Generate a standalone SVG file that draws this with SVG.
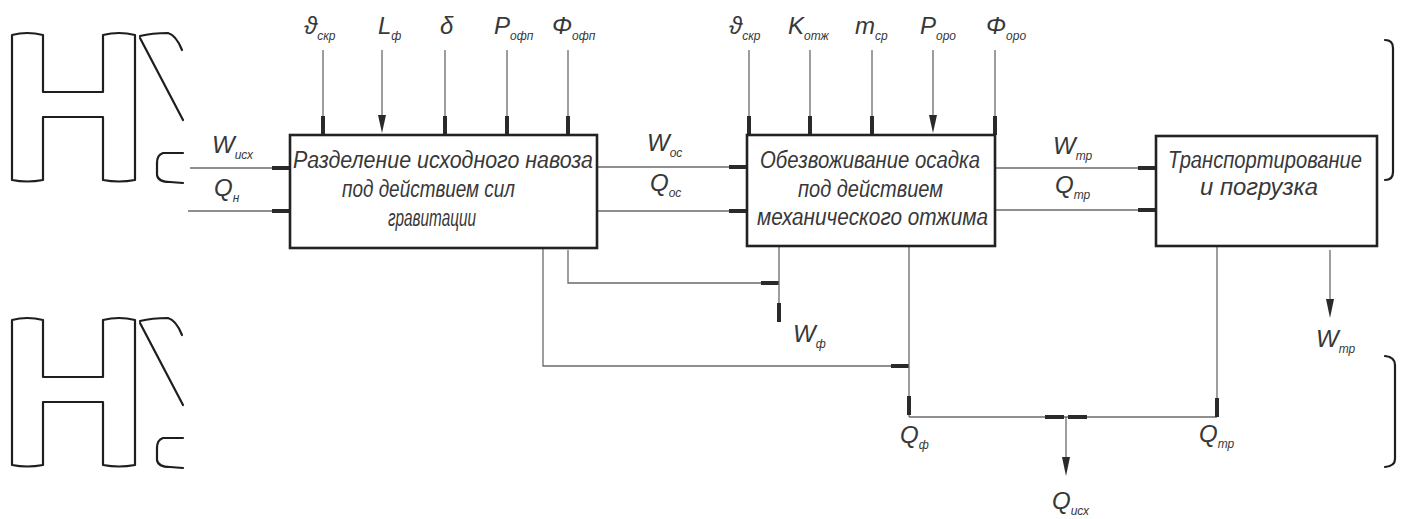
<svg xmlns="http://www.w3.org/2000/svg" width="1407" height="519" viewBox="0 0 1407 519">
<style>
.bg{fill:#ffffff}
.box{fill:#ffffff;stroke:#222;stroke-width:2.6}
.ln{fill:none;stroke:#6a6a6a;stroke-width:1.3}
.stub{stroke:#2a2a2a;stroke-width:4;stroke-linecap:butt}
.arr{fill:#2a2a2a}
.deco{fill:none;stroke:#1e1e1e;stroke-width:2.2;stroke-linejoin:round;stroke-linecap:round}
.bt{font-family:"Liberation Sans","DejaVu Sans",sans-serif;font-style:italic;font-size:23px;fill:#383838}
.lbl{font-family:"Liberation Sans","DejaVu Sans",sans-serif;font-style:italic;font-size:24px;fill:#383838}
.sub{font-size:12px}
</style>
<rect class="bg" x="0" y="0" width="1407" height="519"/>

<g id="decorations">
  <g id="deco-top">
    <path class="deco" d="M12,180 L12,35 Q27,31 43,35 L43,92 L103,92 L103,35 Q119,31 135,35 L135,180 Q119,183 103,180 L103,117 L43,117 L43,180 Q27,183 12,180 Z"/>
    <path class="deco" d="M140,36 Q152,33 168,33 Q176,35 182,50"/>
    <path class="deco" d="M140,38 L183,120"/>
    <path class="deco" d="M183,153 L163,153 Q157,155 157,163 L157,175 Q158,182 170,182 L183,183"/>
  </g>
  <g id="deco-bottom" transform="translate(0,285)">
    <path class="deco" d="M12,180 L12,35 Q27,31 43,35 L43,92 L103,92 L103,35 Q119,31 135,35 L135,180 Q119,183 103,180 L103,117 L43,117 L43,180 Q27,183 12,180 Z"/>
    <path class="deco" d="M140,36 Q152,33 168,33 Q176,35 182,50"/>
    <path class="deco" d="M140,38 L183,120"/>
    <path class="deco" d="M183,153 L163,153 Q157,155 157,163 L157,175 Q158,182 170,182 L183,183"/>
  </g>
  <path class="deco" d="M1385,40 Q1393,40 1393,48 L1393,172 Q1393,180 1385,180"/>
  <path class="deco" d="M1385,356 Q1395,357 1395,365 L1395,459 Q1395,466 1385,467"/>
</g>

<g id="connectors">
  <line class="ln" x1="190" y1="168" x2="290" y2="168"/><line class="stub" x1="272" y1="168" x2="290" y2="168"/>
  <line class="ln" x1="188" y1="211" x2="290" y2="211"/><line class="stub" x1="272" y1="211" x2="290" y2="211"/>
  <line class="ln" x1="323" y1="50" x2="323" y2="135"/><line class="stub" x1="323" y1="116" x2="323" y2="135"/>
  <line class="ln" x1="382" y1="50" x2="382" y2="118"/><polygon class="arr" points="378,115 386,115 382,133"/>
  <line class="ln" x1="445" y1="50" x2="445" y2="135"/><line class="stub" x1="445" y1="116" x2="445" y2="135"/>
  <line class="ln" x1="507" y1="50" x2="507" y2="135"/><line class="stub" x1="507" y1="116" x2="507" y2="135"/>
  <line class="ln" x1="568" y1="50" x2="568" y2="135"/><line class="stub" x1="568" y1="116" x2="568" y2="135"/>
  <line class="ln" x1="749" y1="50" x2="749" y2="135"/><line class="stub" x1="749" y1="116" x2="749" y2="135"/>
  <line class="ln" x1="810" y1="50" x2="810" y2="135"/><line class="stub" x1="810" y1="116" x2="810" y2="135"/>
  <line class="ln" x1="872" y1="50" x2="872" y2="135"/><line class="stub" x1="872" y1="116" x2="872" y2="135"/>
  <line class="ln" x1="933" y1="50" x2="933" y2="118"/><polygon class="arr" points="929,115 937,115 933,133"/>
  <line class="ln" x1="995" y1="50" x2="995" y2="135"/><line class="stub" x1="995" y1="116" x2="995" y2="135"/>
  <line class="ln" x1="597" y1="167" x2="747" y2="167"/><line class="stub" x1="729" y1="167" x2="747" y2="167"/>
  <line class="ln" x1="597" y1="211" x2="747" y2="211"/><line class="stub" x1="729" y1="211" x2="747" y2="211"/>
  <line class="ln" x1="995" y1="168" x2="1156" y2="168"/><line class="stub" x1="1138" y1="168" x2="1156" y2="168"/>
  <line class="ln" x1="995" y1="210" x2="1156" y2="210"/><line class="stub" x1="1138" y1="210" x2="1156" y2="210"/>
  <polyline class="ln" points="568,250 568,283 779,283"/><line class="stub" x1="761" y1="283" x2="779" y2="283"/>
  <line class="ln" x1="779" y1="246" x2="779" y2="322"/><line class="stub" x1="779" y1="303" x2="779" y2="322"/>
  <polyline class="ln" points="543,248 543,366 909,366"/><line class="stub" x1="891" y1="366" x2="909" y2="366"/>
  <line class="ln" x1="909" y1="246" x2="909" y2="417"/><line class="stub" x1="909" y1="396" x2="909" y2="415"/>
  <line class="ln" x1="909" y1="417" x2="1217" y2="417"/>
  <line class="ln" x1="1217" y1="246" x2="1217" y2="417"/><line class="stub" x1="1217" y1="398" x2="1217" y2="417"/>
  <line class="stub" x1="1045" y1="417" x2="1064" y2="417"/><line class="stub" x1="1068" y1="417" x2="1087" y2="417"/>
  <line class="ln" x1="1066" y1="417" x2="1066" y2="460"/><polygon class="arr" points="1062,457 1070,457 1066,476"/>
  <line class="ln" x1="1330" y1="250" x2="1330" y2="302"/><polygon class="arr" points="1326,299 1334,299 1330,318"/>
</g>

<g id="block1">
  <rect class="box" x="290" y="135" width="307" height="113"/>
  <text class="bt" x="293" y="168" textLength="300" lengthAdjust="spacingAndGlyphs">Разделение исходного навоза</text>
  <text class="bt" x="342" y="197" textLength="173" lengthAdjust="spacingAndGlyphs">под действием сил</text>
  <text class="bt" x="388" y="226" textLength="88" lengthAdjust="spacingAndGlyphs">гравитации</text>
</g>

<g id="block2">
  <rect class="box" x="747" y="135" width="248" height="111"/>
  <text class="bt" x="760" y="168" textLength="220" lengthAdjust="spacingAndGlyphs">Обезвоживание осадка</text>
  <text class="bt" x="798" y="197" textLength="145" lengthAdjust="spacingAndGlyphs">под действием</text>
  <text class="bt" x="757" y="225" textLength="231" lengthAdjust="spacingAndGlyphs">механического отжима</text>
</g>

<g id="block3">
  <rect class="box" x="1156" y="136" width="221" height="110"/>
  <text class="bt" x="1168" y="168" textLength="194" lengthAdjust="spacingAndGlyphs">Транспортирование</text>
  <text class="bt" x="1200" y="195" textLength="118" lengthAdjust="spacingAndGlyphs">и погрузка</text>
</g>

<g id="labels">
  <text class="lbl" x="212" y="153">W<tspan class="sub" dy="6">исх</tspan></text>
  <text class="lbl" x="214" y="196">Q<tspan class="sub" dy="6">н</tspan></text>
  <text class="lbl" x="647" y="151">W<tspan class="sub" dy="6">ос</tspan></text>
  <text class="lbl" x="650" y="191">Q<tspan class="sub" dy="6">ос</tspan></text>
  <text class="lbl" x="1053" y="154">W<tspan class="sub" dy="6">тр</tspan></text>
  <text class="lbl" x="1055" y="193">Q<tspan class="sub" dy="6">тр</tspan></text>

  <text class="lbl" x="304" y="34">ϑ<tspan class="sub" dy="6">скр</tspan></text>
  <text class="lbl" x="378" y="34">L<tspan class="sub" dy="6">ф</tspan></text>
  <text class="lbl" x="440" y="34">δ</text>
  <text class="lbl" x="494" y="34">P<tspan class="sub" dy="6">офп</tspan></text>
  <text class="lbl" x="552" y="34">Φ<tspan class="sub" dy="6">офп</tspan></text>

  <text class="lbl" x="729" y="34">ϑ<tspan class="sub" dy="6">скр</tspan></text>
  <text class="lbl" x="788" y="34">K<tspan class="sub" dy="6">отж</tspan></text>
  <text class="lbl" x="855" y="34">m<tspan class="sub" dy="6">ср</tspan></text>
  <text class="lbl" x="920" y="34">P<tspan class="sub" dy="6">оро</tspan></text>
  <text class="lbl" x="986" y="34">Φ<tspan class="sub" dy="6">оро</tspan></text>

  <text class="lbl" x="793" y="342">W<tspan class="sub" dy="6">ф</tspan></text>
  <text class="lbl" x="900" y="443">Q<tspan class="sub" dy="6">ф</tspan></text>
  <text class="lbl" x="1199" y="442">Q<tspan class="sub" dy="6">тр</tspan></text>
  <text class="lbl" x="1052" y="509">Q<tspan class="sub" dy="6">исх</tspan></text>
  <text class="lbl" x="1316" y="347">W<tspan class="sub" dy="6">тр</tspan></text>
</g>
</svg>
